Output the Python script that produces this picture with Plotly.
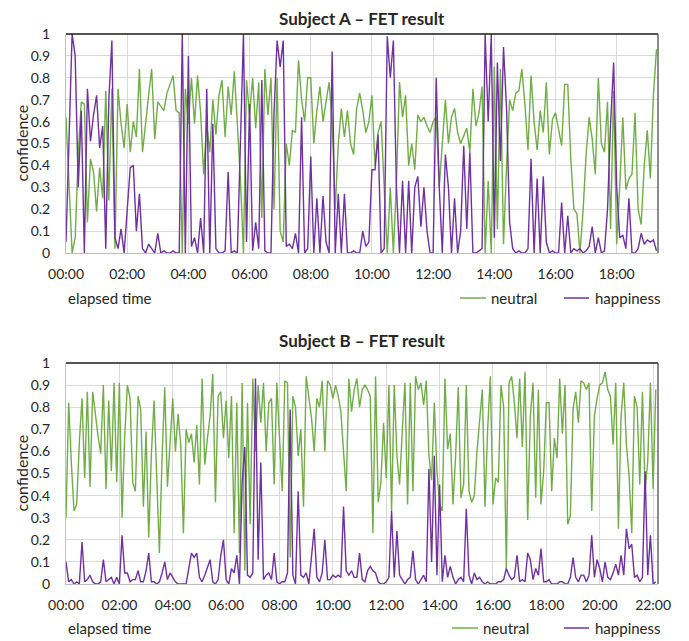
import numpy as np
import pandas as pd
import plotly.graph_objects as go
from plotly.subplots import make_subplots

# ---------------- data ----------------
SAMPLE_MINUTES = 6
START = "2000-01-01 00:00"
END_A = "2000-01-01 19:21"
END_B = "2000-01-01 22:11"

A_neutral = [
    0.62, 0.30, 0.00, 0.07, 0.45, 0.69, 0.68, 0.14, 0.43, 0.37,
    0.19, 0.39, 0.25, 0.74, 0.24, 0.75, 0.02, 0.75, 0.59, 0.48,
    0.68, 0.46, 0.60, 0.53, 0.84, 0.46, 0.60, 0.72, 0.84, 0.52,
    0.69, 0.67, 0.65, 0.73, 0.77, 0.81, 0.65, 0.64, 0.00, 0.75,
    0.59, 0.80, 0.59, 0.81, 0.64, 0.36, 0.59, 0.46, 0.70, 0.54,
    0.72, 0.79, 0.53, 0.76, 0.63, 0.83, 0.59, 0.34, 0.00, 0.79,
    0.63, 0.80, 0.57, 0.78, 0.16, 0.84, 0.63, 0.80, 0.20, 0.80,
    0.10, 0.05, 0.50, 0.40, 0.56, 0.55, 0.88, 0.70, 0.60, 0.80,
    0.80, 0.50, 0.65, 0.76, 0.60, 0.70, 0.78, 0.60, 0.20, 0.50,
    0.66, 0.53, 0.65, 0.50, 0.45, 0.66, 0.73, 0.65, 0.55, 0.60,
    0.72, 0.40, 0.55, 0.60, 0.33, 0.00, 0.30, 0.00, 0.32, 0.78,
    0.62, 0.72, 0.40, 0.50, 0.38, 0.63, 0.60, 0.62, 0.58, 0.55,
    0.60, 0.62, 0.30, 0.50, 0.70, 0.50, 0.62, 0.66, 0.55, 0.50,
    0.54, 0.57, 0.46, 0.75, 0.58, 0.64, 0.76, 0.00, 0.33, 0.00,
    0.85, 0.11, 0.84, 0.04, 0.40, 0.70, 0.65, 0.73, 0.74, 0.84,
    0.68, 0.47, 0.81, 0.60, 0.47, 0.65, 0.55, 0.78, 0.45, 0.61,
    0.64, 0.57, 0.49, 0.77, 0.77, 0.43, 0.20, 0.18, 0.00, 0.19,
    0.45, 0.62, 0.52, 0.36, 0.80, 0.50, 0.46, 0.69, 0.11, 0.74,
    0.04, 0.31, 0.62, 0.29, 0.34, 0.36, 0.64, 0.20, 0.13, 0.40,
    0.56, 0.34, 0.72, 0.93,
]
A_happiness = [
    0.05, 0.51, 1.00, 0.90, 0.30, 0.65, 0.00, 0.75, 0.51, 0.63,
    0.72, 0.48, 0.58, 0.02, 0.70, 0.97, 0.07, 0.02, 0.11, 0.00,
    0.22, 0.39, 0.40, 0.10, 0.27, 0.02, 0.00, 0.04, 0.02, 0.00,
    0.09, 0.00, 0.01, 0.00, 0.00, 0.01, 0.00, 0.00, 1.00, 0.00,
    0.90, 0.03, 0.07, 0.00, 0.16, 0.00, 0.75, 0.00, 0.59, 0.02,
    0.00, 0.00, 0.01, 0.37, 0.00, 0.01, 0.00, 0.49, 1.00, 0.05,
    0.68, 0.01, 0.14, 0.02, 0.79, 0.01, 0.00, 0.00, 0.64, 0.97,
    0.85, 0.97, 0.03, 0.04, 0.02, 0.09, 0.00, 0.62, 0.00, 0.02,
    0.44, 0.00, 0.25, 0.00, 0.26, 0.05, 0.00, 0.92, 0.00, 0.27,
    0.00, 0.27, 0.00, 0.00, 0.01, 0.00, 0.00, 0.10, 0.03, 0.05,
    0.38, 0.38, 0.54, 0.00, 0.02, 0.99, 0.80, 0.97, 0.30, 0.00,
    0.33, 0.00, 0.33, 0.00, 0.30, 0.35, 0.12, 0.30, 0.10, 0.00,
    0.00, 0.80, 0.30, 0.00, 0.45, 0.30, 0.00, 0.25, 0.00, 0.10,
    0.49, 0.11, 0.46, 0.00, 0.00, 0.01, 0.02, 1.00, 0.60, 1.00,
    0.07, 0.87, 0.42, 0.94, 0.66, 0.14, 0.02, 0.00, 0.01, 0.00,
    0.00, 0.02, 0.43, 0.00, 0.34, 0.00, 0.35, 0.05, 0.00, 0.01,
    0.00, 0.00, 0.23, 0.00, 0.17, 0.00, 0.02, 0.01, 0.02, 0.00,
    0.01, 0.03, 0.12, 0.00, 0.07, 0.00, 0.01, 0.20, 0.59, 0.87,
    0.30, 0.07, 0.08, 0.02, 0.25, 0.00, 0.00, 0.02, 0.09, 0.04,
    0.06, 0.05, 0.06, 0.01,
]
B_neutral = [
    0.30, 0.82, 0.55, 0.33, 0.36, 0.64, 0.84, 0.48, 0.87, 0.44,
    0.87, 0.76, 0.67, 0.59, 0.90, 0.43, 0.83, 0.51, 0.91, 0.46,
    0.91, 0.30, 0.67, 0.90, 0.84, 0.46, 0.42, 0.85, 0.79, 0.35,
    0.69, 0.21, 0.59, 0.83, 0.48, 0.14, 0.57, 0.89, 0.44, 0.64,
    0.84, 0.60, 0.77, 0.63, 0.23, 0.70, 0.64, 0.68, 0.55, 0.72,
    0.45, 0.93, 0.54, 0.66, 0.76, 0.95, 0.37, 0.85, 0.87, 0.66,
    0.83, 0.57, 0.85, 0.23, 0.82, 0.14, 0.91, 0.06, 0.82, 0.27,
    0.93, 0.60, 0.90, 0.73, 0.91, 0.60, 0.82, 0.84, 0.45, 0.91,
    0.63, 0.42, 0.92, 0.91, 0.12, 0.85, 0.80, 0.58, 0.70, 0.35,
    0.94, 0.84, 0.75, 0.60, 0.84, 0.80, 0.92, 0.60, 0.92, 0.90,
    0.84, 0.90, 0.85, 0.78, 0.60, 0.42, 0.93, 0.78, 0.88, 0.93,
    0.80, 0.88, 0.90, 0.88, 0.85, 0.23, 0.94, 0.37, 0.46, 0.73,
    0.48, 0.90, 0.33, 0.90, 0.58, 0.45, 0.69, 0.91, 0.36, 0.91,
    0.42, 0.94, 0.88, 0.91, 0.81, 0.92, 0.58, 0.47, 0.82, 0.51,
    0.36, 0.33, 0.93, 0.61, 0.68, 0.36, 0.58, 0.89, 0.39, 0.45,
    0.90, 0.42, 0.37, 0.40, 0.60, 0.75, 0.88, 0.35, 0.70, 0.94,
    0.36, 0.48, 0.46, 0.90, 0.80, 0.07, 0.91, 0.94, 0.82, 0.66,
    0.93, 0.62, 0.96, 0.29, 0.76, 0.91, 0.39, 0.88, 0.36, 0.51,
    0.82, 0.82, 0.42, 0.66, 0.57, 0.93, 0.68, 0.90, 0.27, 0.31,
    0.79, 0.87, 0.73, 0.92, 0.91, 0.88, 0.91, 0.33, 0.76, 0.84,
    0.90, 0.91, 0.96, 0.88, 0.85, 0.63, 0.91, 0.25, 0.76, 0.91,
    0.63, 0.49, 0.23, 0.85, 0.80, 0.45, 0.87, 0.42, 0.56, 0.91,
    0.43, 0.88,
]
B_happiness = [
    0.10, 0.01, 0.02, 0.00, 0.01, 0.00, 0.19, 0.01, 0.02, 0.04,
    0.01, 0.00, 0.00, 0.01, 0.11, 0.01, 0.02, 0.03, 0.00, 0.03,
    0.00, 0.22, 0.05, 0.05, 0.01, 0.02, 0.02, 0.06, 0.01, 0.01,
    0.06, 0.14, 0.01, 0.01, 0.00, 0.01, 0.05, 0.10, 0.02, 0.05,
    0.03, 0.01, 0.00, 0.00, 0.00, 0.00, 0.07, 0.14, 0.12, 0.14,
    0.03, 0.01, 0.04, 0.08, 0.11, 0.01, 0.00, 0.02, 0.13, 0.20,
    0.02, 0.00, 0.07, 0.05, 0.13, 0.00, 0.46, 0.62, 0.04, 0.03,
    0.05, 0.93, 0.11, 0.55, 0.02, 0.04, 0.05, 0.02, 0.14, 0.01,
    0.00, 0.01, 0.01, 0.05, 0.79, 0.04, 0.00, 0.42, 0.04, 0.03,
    0.05, 0.00, 0.12, 0.25, 0.03, 0.01, 0.05, 0.20, 0.02, 0.02,
    0.04, 0.03, 0.04, 0.03, 0.35, 0.06, 0.04, 0.06, 0.03, 0.03,
    0.14, 0.02, 0.01, 0.06, 0.08, 0.06, 0.05, 0.01, 0.00, 0.00,
    0.01, 0.03, 0.33, 0.03, 0.24, 0.04, 0.02, 0.00, 0.02, 0.03,
    0.15, 0.02, 0.00, 0.02, 0.04, 0.01, 0.52, 0.10, 0.58, 0.04,
    0.45, 0.01, 0.13, 0.03, 0.08, 0.03, 0.00, 0.02, 0.03, 0.01,
    0.34, 0.04, 0.00, 0.05, 0.02, 0.03, 0.01, 0.00, 0.01, 0.00,
    0.00, 0.00, 0.01, 0.01, 0.02, 0.07, 0.04, 0.02, 0.03, 0.13,
    0.01, 0.02, 0.01, 0.14, 0.11, 0.02, 0.07, 0.04, 0.16, 0.01,
    0.01, 0.02, 0.00, 0.00, 0.00, 0.01, 0.01, 0.00, 0.00, 0.03,
    0.12, 0.03, 0.01, 0.04, 0.04, 0.01, 0.04, 0.22, 0.03, 0.11,
    0.07, 0.01, 0.10, 0.03, 0.02, 0.05, 0.09, 0.04, 0.13, 0.04,
    0.25, 0.16, 0.18, 0.03, 0.04, 0.01, 0.03, 0.51, 0.04, 0.22,
    0.00, 0.01,
]

TITLES = ["Subject A \u2013 FET result", "Subject B \u2013 FET result"]
SERIES_NAMES = ["neutral", "happiness"]
Y_TITLE = "confidence"
X_TITLE = "elapsed time"

# ---------------- style ----------------
GREEN = "#70AD47"
PURPLE = "#7030A0"
FONT = "Lato"
TEXT = "#262626"
GRID = "#d9d9d9"
AXIS = "#bfbfbf"


def times(n):
    return pd.Timestamp(START) + pd.to_timedelta(np.arange(n) * SAMPLE_MINUTES, unit="min")


# page body has an 8px default margin: lay everything out 8px up/left
OFF = 8
W, H = 689, 641
ML = 66 - OFF
MT = 34 - OFF
MR = W - (658 - OFF)
MB = H - (584 - OFF)
PH = H - MT - MB
PW = W - ML - MR


def py(pix):
    return (H - MB - (pix - OFF)) / PH


def px(pix):
    return (pix - OFF - ML) / PW


fig = make_subplots(rows=2, cols=1)

for row, (neu, hap) in enumerate([(A_neutral, A_happiness), (B_neutral, B_happiness)], start=1):
    t = times(len(neu))
    fig.add_trace(go.Scatter(x=t, y=neu, mode="lines", name=SERIES_NAMES[0],
                             line=dict(color=GREEN, width=1.4), showlegend=False), row=row, col=1)
    fig.add_trace(go.Scatter(x=t, y=hap, mode="lines", name=SERIES_NAMES[1],
                             line=dict(color=PURPLE, width=1.4), showlegend=False), row=row, col=1)

common_x = dict(type="date", tickformat="%H:%M", dtick=2 * 3600 * 1000, tick0=START,
                showgrid=True, gridcolor=GRID, gridwidth=1, showline=True, linecolor=AXIS,
                linewidth=1, ticks="", ticklabelstandoff=8, zeroline=False, automargin=False,
                tickfont=dict(family=FONT, size=14, color=TEXT))
common_y = dict(range=[0, 1], dtick=0.1, showgrid=True, gridcolor=GRID, gridwidth=1,
                showline=True, linecolor=AXIS, linewidth=1, ticks="", ticklabelstandoff=12,
                zeroline=False, automargin=False, tickfont=dict(family=FONT, size=14, color=TEXT))

fig.update_layout(
    xaxis=dict(common_x, domain=[0, 1], range=[START, END_A]),
    xaxis2=dict(common_x, domain=[0, 1], range=[START, END_B]),
    yaxis=dict(common_y, domain=[py(253), 1.0]),
    yaxis2=dict(common_y, domain=[0, py(363)]),
)

ann = []
shapes = []
for i, (title_y, center_y, xlab_y, leg) in enumerate([
        (18, 143.5, 298, (460, 486, 489, 564, 589, 593)),
        (341, 473.5, 628, (452, 478, 481, 564, 589, 593))]):
    ann.append(dict(text="<b>" + TITLES[i] + "</b>", x=px(362), y=py(title_y), xref="paper", yref="paper",
                    xanchor="center", yanchor="middle", showarrow=False,
                    font=dict(family=FONT, size=17, color=TEXT)))
    ann.append(dict(text=Y_TITLE, x=px(21), y=py(center_y), xref="paper", yref="paper",
                    xanchor="center", yanchor="middle", textangle=-90, showarrow=False,
                    font=dict(family=FONT, size=16, color=TEXT)))
    ann.append(dict(text=X_TITLE, x=px(66), y=py(xlab_y), xref="paper", yref="paper",
                    xanchor="left", yanchor="middle", showarrow=False,
                    font=dict(family=FONT, size=15, color=TEXT)))
    g0, g1, gt, p0, p1, pt = leg
    shapes.append(dict(type="line", xref="paper", yref="paper", x0=px(g0), x1=px(g1),
                       y0=py(xlab_y), y1=py(xlab_y), line=dict(color=GREEN, width=1.5)))
    shapes.append(dict(type="line", xref="paper", yref="paper", x0=px(p0), x1=px(p1),
                       y0=py(xlab_y), y1=py(xlab_y), line=dict(color=PURPLE, width=1.5)))
    ann.append(dict(text=SERIES_NAMES[0], x=px(gt), y=py(xlab_y), xref="paper", yref="paper",
                    xanchor="left", yanchor="middle", showarrow=False,
                    font=dict(family=FONT, size=15, color=TEXT)))
    ann.append(dict(text=SERIES_NAMES[1], x=px(pt), y=py(xlab_y), xref="paper", yref="paper",
                    xanchor="left", yanchor="middle", showarrow=False,
                    font=dict(family=FONT, size=15, color=TEXT)))

# dark top/right frame of each plot area
for xa, ya in [("x", "y"), ("x2", "y2")]:
    shapes.append(dict(type="line", xref=xa + " domain", yref=ya + " domain", x0=0, x1=1, y0=1, y1=1,
                       line=dict(color="#1a1a1a", width=1.5)))
    shapes.append(dict(type="line", xref=xa + " domain", yref=ya + " domain", x0=1, x1=1, y0=0, y1=1,
                       line=dict(color="#404040", width=1.2)))

fig.update_layout(
    width=W, height=H,
    margin=dict(l=ML, r=MR, t=MT, b=MB),
    paper_bgcolor="white", plot_bgcolor="white",
    font=dict(family=FONT, color=TEXT),
    annotations=ann, shapes=shapes, showlegend=False,
)

fig.write_html("out.html")
